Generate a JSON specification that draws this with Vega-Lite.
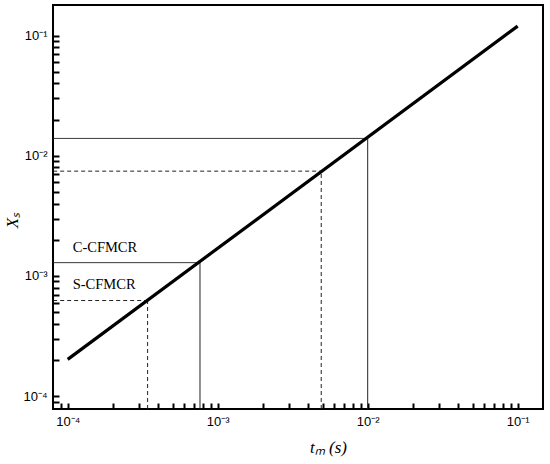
{
  "$schema": "https://vega.github.io/schema/vega-lite/v6.json",
  "width": 490,
  "height": 404,
  "autosize": {"type": "none"},
  "padding": {"left": 53, "top": 5, "right": 7, "bottom": 55},
  "background": "white",
  "config": {
    "view": {"stroke": "black", "strokeWidth": 2},
    "axisY": {"ticks": true, "tickOpacity": 1, "tickColor": "black", "tickWidth": 2, "tickSize": -6},
    "axisLeft": {"ticks": true, "tickOpacity": 1, "tickColor": "black", "tickWidth": 2, "tickSize": -6}
  },
  "datasets": {
    "curve": [
      {"tm": 0.0001, "xs": 0.000202},
      {"tm": 0.1, "xs": 0.12}
    ],
    "refs": [
      {"x1": 0.00008, "x2": 0.01, "y1": 0.01395, "y2": 0.01395, "kind": "C-CFMCR"},
      {"x1": 0.01, "x2": 0.01, "y1": 0.000078, "y2": 0.01395, "kind": "C-CFMCR"},
      {"x1": 0.00008, "x2": 0.0049, "y1": 0.00745, "y2": 0.00745, "kind": "S-CFMCR"},
      {"x1": 0.0049, "x2": 0.0049, "y1": 0.000078, "y2": 0.00745, "kind": "S-CFMCR"},
      {"x1": 0.00008, "x2": 0.000762, "y1": 0.00129, "y2": 0.00129, "kind": "C-CFMCR"},
      {"x1": 0.000762, "x2": 0.000762, "y1": 0.000078, "y2": 0.00129, "kind": "C-CFMCR"},
      {"x1": 0.00008, "x2": 0.000341, "y1": 0.000624, "y2": 0.000624, "kind": "S-CFMCR"},
      {"x1": 0.000341, "x2": 0.000341, "y1": 0.000078, "y2": 0.000624, "kind": "S-CFMCR"}
    ],
    "labels": [
      {"tm": 0.000108, "xs": 0.00157, "text": "C-CFMCR"},
      {"tm": 0.000108, "xs": 0.000775, "text": "S-CFMCR"}
    ]
  },
  "layer": [
    {
      "data": {"name": "refs"},
      "mark": {"type": "rule", "color": "#222", "strokeWidth": 1},
      "encoding": {
        "x": {
          "field": "x1", "type": "quantitative",
          "scale": {"type": "log", "domain": [0.0000798, 0.1475], "nice": false},
          "axis": {
            "grid": false,
            "domain": false,
            "title": "tₘ (s)",
            "titleFont": "Liberation Serif",
            "titleFontStyle": "italic",
            "titleFontWeight": "normal",
            "titleFontSize": 17,
            "titleColor": "black",
            "titleX": 275, "titleY": 43, "titleAlign": "center", "titleBaseline": "alphabetic",
            "values": [0.00009, 0.0001, 0.0002, 0.0003, 0.0004, 0.0005, 0.0006, 0.0007, 0.0008, 0.0009, 0.001, 0.002, 0.003, 0.004, 0.005, 0.006, 0.007, 0.008, 0.009, 0.01, 0.02, 0.03, 0.04, 0.05, 0.06, 0.07, 0.08, 0.09, 0.1],
            "ticks": true,
            "tickColor": "black",
            "tickOpacity": 1,
            "tickWidth": 2,
            "tickSize": -6,
            "labelFont": "Liberation Sans",
            "labelFontSize": 13,
            "labelColor": "black",
            "labelPadding": 12,
            "labelExpr": "abs(log(datum.value)/LN10 - round(log(datum.value)/LN10)) > 0.001 ? '' : (round(log(datum.value)/LN10) == -1 ? '10⁻¹' : round(log(datum.value)/LN10) == -2 ? '10⁻²' : round(log(datum.value)/LN10) == -3 ? '10⁻³' : '10⁻⁴')"
          }
        },
        "x2": {"field": "x2"},
        "y": {
          "field": "y1", "type": "quantitative",
          "scale": {"type": "log", "domain": [0.000078, 0.18], "nice": false},
          "axis": {
            "orient": "left",
            "grid": false,
            "domain": false,
            "title": "Xₛ",
            "titleFont": "Liberation Serif",
            "titleFontStyle": "italic",
            "titleFontWeight": "normal",
            "titleFontSize": 17,
            "titleColor": "black",
            "titleX": -41, "titleY": 215, "titleAngle": 270, "titleAlign": "center", "titleBaseline": "middle",
            "values": [0.00009, 0.0001, 0.0002, 0.0003, 0.0004, 0.0005, 0.0006, 0.0007, 0.0008, 0.0009, 0.001, 0.002, 0.003, 0.004, 0.005, 0.006, 0.007, 0.008, 0.009, 0.01, 0.02, 0.03, 0.04, 0.05, 0.06, 0.07, 0.08, 0.09, 0.1],
            "ticks": true,
            "tickColor": "black",
            "tickOpacity": 1,
            "tickWidth": 2,
            "tickSize": -6,
            "labelFont": "Liberation Sans",
            "labelFontSize": 13,
            "labelColor": "black",
            "labelPadding": 12,
            "labelExpr": "abs(log(datum.value)/LN10 - round(log(datum.value)/LN10)) > 0.001 ? '' : (round(log(datum.value)/LN10) == -1 ? '10⁻¹' : round(log(datum.value)/LN10) == -2 ? '10⁻²' : round(log(datum.value)/LN10) == -3 ? '10⁻³' : '10⁻⁴')"
          }
        },
        "y2": {"field": "y2"},
        "strokeDash": {
          "field": "kind", "type": "nominal",
          "scale": {"domain": ["C-CFMCR", "S-CFMCR"], "range": [[1, 0], [4, 3]]},
          "legend": null
        }
      }
    },
    {
      "data": {"name": "curve"},
      "mark": {"type": "line", "color": "black", "strokeWidth": 3.2},
      "encoding": {
        "x": {"field": "tm", "type": "quantitative"},
        "y": {"field": "xs", "type": "quantitative"}
      }
    },
    {
      "data": {"name": "labels"},
      "mark": {"type": "text", "align": "left", "baseline": "alphabetic", "font": "Liberation Serif", "fontSize": 14.5, "color": "black"},
      "encoding": {
        "x": {"field": "tm", "type": "quantitative"},
        "y": {"field": "xs", "type": "quantitative"},
        "text": {"field": "text"}
      }
    }
  ]
}
